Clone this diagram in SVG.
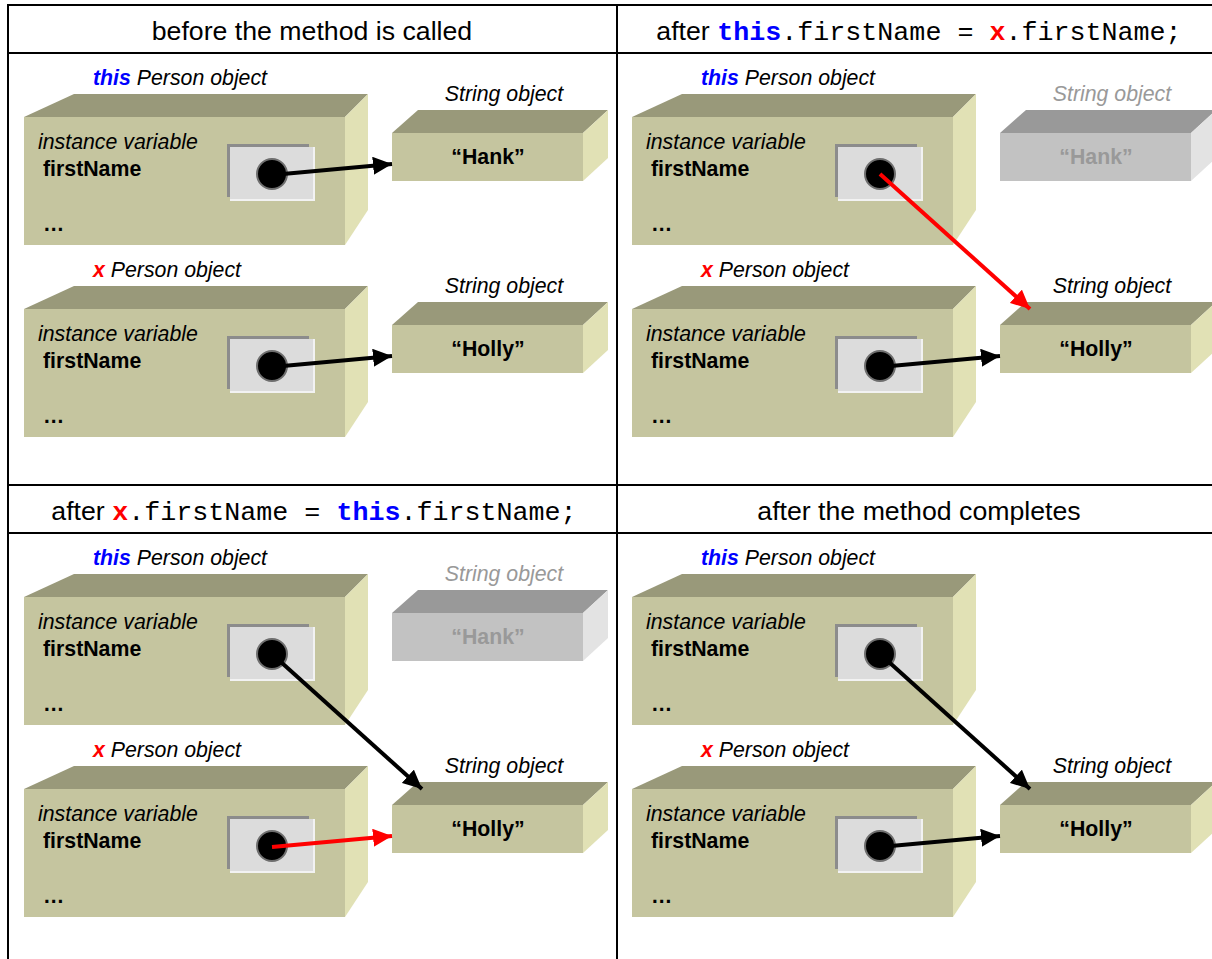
<svg xmlns="http://www.w3.org/2000/svg" xmlns:xlink="http://www.w3.org/1999/xlink" width="1212" height="959" viewBox="0 0 1212 959">
<style>
.grid{stroke:#000;stroke-width:2;fill:none}
.hdr{font-family:"Liberation Sans",Arial,sans-serif;font-size:26.7px;fill:#000}
.code{font-family:"Liberation Mono","Courier New",monospace}
.lbl{font-family:"Liberation Sans",Arial,sans-serif;font-size:21.3px;font-style:italic;fill:#000}
.lblg{font-family:"Liberation Sans",Arial,sans-serif;font-size:21.3px;font-style:italic;fill:#999}
.var{font-family:"Liberation Sans",Arial,sans-serif;font-size:21.3px;fill:#000}
.b{font-weight:bold}
.val{font-family:"Liberation Sans",Arial,sans-serif;font-size:21.3px;font-weight:bold;fill:#000;text-anchor:middle}
.valg{font-family:"Liberation Sans",Arial,sans-serif;font-size:21.3px;font-weight:bold;fill:#999;text-anchor:middle}
.blue{fill:#0000FF;font-weight:bold}
.red{fill:#FF0000;font-weight:bold}
.arrK{stroke:#000;stroke-width:4;fill:none;marker-end:url(#ahK)}
.arrR{stroke:#FF0000;stroke-width:4;fill:none;marker-end:url(#ahR)}
</style>
<defs>
<marker id="ahK" markerUnits="userSpaceOnUse" markerWidth="20" markerHeight="18" refX="19" refY="9" orient="auto"><path d="M0,0 L19,9 L0,18 z" fill="#000"/></marker>
<marker id="ahR" markerUnits="userSpaceOnUse" markerWidth="20" markerHeight="18" refX="19" refY="9" orient="auto"><path d="M0,0 L19,9 L0,18 z" fill="#FF0000"/></marker>
<g id="personShape">
<polygon points="0,0 321,0 344,-23 50,-23" fill="#99997A"/>
<polygon points="321,0 344,-23 344,93 321,128" fill="#E1E1B5"/>
<rect x="0" y="0" width="321" height="128" fill="#C5C59F"/>
<rect x="203" y="27" width="82" height="53" fill="#8C8C8C"/>
<rect x="206" y="30" width="85" height="54" fill="#F2F2F2"/>
<rect x="206" y="30" width="83" height="52" fill="#DCDCDC"/>
<circle cx="248" cy="57" r="15" fill="#000" stroke="#6E6E6E" stroke-width="2"/>
<text class="var" x="14" y="32" font-style="italic">instance variable</text>
<text class="var b" x="19" y="59">firstName</text>
<text class="var b" x="19" y="114">…</text>
</g>
<g id="stringShape">
<polygon points="0,0 191,0 216,-23 26,-23" fill="#99997A"/>
<polygon points="191,0 216,-23 216,25 191,48" fill="#E1E1B5"/>
<rect x="0" y="0" width="191" height="48" fill="#C5C59F"/>
</g>
<g id="stringGray">
<polygon points="0,0 191,0 216,-23 26,-23" fill="#999999"/>
<polygon points="191,0 216,-23 216,25 191,48" fill="#E3E3E3"/>
<rect x="0" y="0" width="191" height="48" fill="#C2C2C2"/>
</g>
</defs>

<g id="grid" class="grid">
<line x1="8" y1="5" x2="1212" y2="5"/>
<line x1="8" y1="53" x2="1212" y2="53"/>
<line x1="8" y1="485" x2="1212" y2="485"/>
<line x1="8" y1="533" x2="1212" y2="533"/>
<line x1="8" y1="4" x2="8" y2="959"/>
<line x1="617" y1="4" x2="617" y2="959"/>
</g>

<g id="headers">
<text class="hdr" x="312" y="40" text-anchor="middle">before the method is called</text>
<text class="hdr" x="919" y="40" text-anchor="middle">after <tspan class="code blue">this</tspan><tspan class="code">.firstName = </tspan><tspan class="code red">x</tspan><tspan class="code">.firstName;</tspan></text>
<text class="hdr" x="314" y="520" text-anchor="middle">after <tspan class="code red">x</tspan><tspan class="code">.firstName = </tspan><tspan class="code blue">this</tspan><tspan class="code">.firstName;</tspan></text>
<text class="hdr" x="919" y="520" text-anchor="middle">after the method completes</text>
</g>

<!-- Panel 1 -->
<g id="p1-this" transform="translate(24,117)">
<use xlink:href="#personShape"/>
<text class="lbl" x="69" y="-32"><tspan class="blue">this</tspan> Person object</text>
</g>
<g id="p1-hank" transform="translate(392,133)">
<use xlink:href="#stringShape"/>
<text class="lbl" x="112" y="-32" text-anchor="middle">String object</text>
<text class="val" x="96" y="31">“Hank”</text>
</g>
<g id="p1-x" transform="translate(24,309)">
<use xlink:href="#personShape"/>
<text class="lbl" x="69" y="-32"><tspan class="red">x</tspan> Person object</text>
</g>
<g id="p1-holly" transform="translate(392,325)">
<use xlink:href="#stringShape"/>
<text class="lbl" x="112" y="-32" text-anchor="middle">String object</text>
<text class="val" x="96" y="31">“Holly”</text>
</g>

<!-- Panel 2 -->
<g id="p2-this" transform="translate(632,117)">
<use xlink:href="#personShape"/>
<text class="lbl" x="69" y="-32"><tspan class="blue">this</tspan> Person object</text>
</g>
<g id="p2-hank" transform="translate(1000,133)">
<use xlink:href="#stringGray"/>
<text class="lblg" x="112" y="-32" text-anchor="middle">String object</text>
<text class="valg" x="96" y="31">“Hank”</text>
</g>
<g id="p2-x" transform="translate(632,309)">
<use xlink:href="#personShape"/>
<text class="lbl" x="69" y="-32"><tspan class="red">x</tspan> Person object</text>
</g>
<g id="p2-holly" transform="translate(1000,325)">
<use xlink:href="#stringShape"/>
<text class="lbl" x="112" y="-32" text-anchor="middle">String object</text>
<text class="val" x="96" y="31">“Holly”</text>
</g>

<!-- Panel 3 -->
<g id="p3-this" transform="translate(24,597)">
<use xlink:href="#personShape"/>
<text class="lbl" x="69" y="-32"><tspan class="blue">this</tspan> Person object</text>
</g>
<g id="p3-hank" transform="translate(392,613)">
<use xlink:href="#stringGray"/>
<text class="lblg" x="112" y="-32" text-anchor="middle">String object</text>
<text class="valg" x="96" y="31">“Hank”</text>
</g>
<g id="p3-x" transform="translate(24,789)">
<use xlink:href="#personShape"/>
<text class="lbl" x="69" y="-32"><tspan class="red">x</tspan> Person object</text>
</g>
<g id="p3-holly" transform="translate(392,805)">
<use xlink:href="#stringShape"/>
<text class="lbl" x="112" y="-32" text-anchor="middle">String object</text>
<text class="val" x="96" y="31">“Holly”</text>
</g>

<!-- Panel 4 -->
<g id="p4-this" transform="translate(632,597)">
<use xlink:href="#personShape"/>
<text class="lbl" x="69" y="-32"><tspan class="blue">this</tspan> Person object</text>
</g>
<g id="p4-x" transform="translate(632,789)">
<use xlink:href="#personShape"/>
<text class="lbl" x="69" y="-32"><tspan class="red">x</tspan> Person object</text>
</g>
<g id="p4-holly" transform="translate(1000,805)">
<use xlink:href="#stringShape"/>
<text class="lbl" x="112" y="-32" text-anchor="middle">String object</text>
<text class="val" x="96" y="31">“Holly”</text>
</g>

<g id="connectors">
<line class="arrK" x1="272" y1="175" x2="392" y2="164"/>
<line class="arrK" x1="272" y1="367" x2="392" y2="356"/>
<line class="arrR" x1="880" y1="174" x2="1030" y2="309"/>
<line class="arrK" x1="880" y1="367" x2="1000" y2="356"/>
<line class="arrK" x1="272" y1="654" x2="422" y2="789"/>
<line class="arrR" x1="272" y1="847" x2="392" y2="836"/>
<line class="arrK" x1="880" y1="654" x2="1030" y2="789"/>
<line class="arrK" x1="880" y1="847" x2="1000" y2="836"/>
</g>
</svg>
